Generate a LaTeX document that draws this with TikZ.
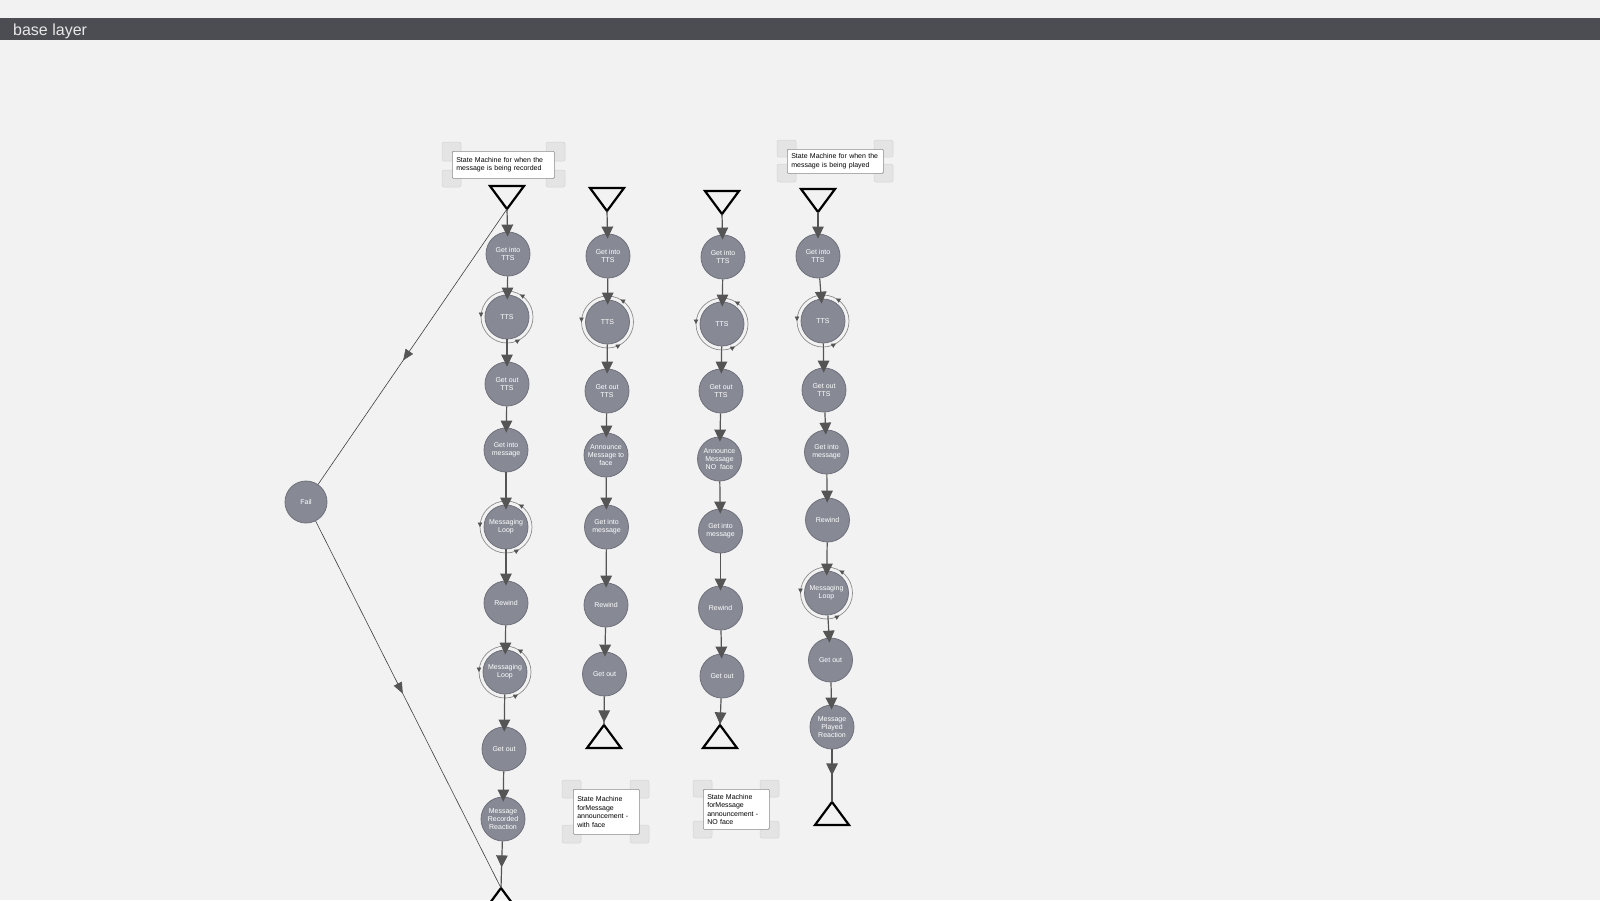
\documentclass[tikz,border=0pt]{standalone}
\usepackage{fontspec}
\setmainfont{Liberation Sans}
\usetikzlibrary{arrows.meta,decorations.markings}
\definecolor{bg}{HTML}{F2F2F2}
\definecolor{bar}{HTML}{4C4C53}
\definecolor{bartext}{HTML}{E8E8E8}
\definecolor{nodefill}{HTML}{878A95}
\definecolor{nodeborder}{HTML}{6E717B}
\definecolor{arrowgray}{HTML}{555555}
\definecolor{ringgray}{HTML}{8C8C8C}
\definecolor{handlefill}{HTML}{E4E4E4}
\definecolor{handledraw}{HTML}{D4D4D4}
\definecolor{lblborder}{HTML}{8A8A8A}
\tikzset{
  st/.style={circle, draw=nodeborder, fill=nodefill, line width=0.8pt, minimum size=44pt,
    inner sep=0pt, text=white, font=\fontsize{7}{8.3}\selectfont, align=center},
  flow/.style={draw=arrowgray, line width=1.2pt, -{Triangle[width=11.5pt,length=12pt]}, shorten >=-5pt},
  flowsrc/.style={draw=arrowgray, line width=1.2pt, postaction={decorate},
    decoration={markings, mark=at position 26pt with {\arrow{Triangle[width=11.5pt,length=12pt]}}}},
  failline/.style={draw=black!75, line width=0.6pt, postaction={decorate},
    decoration={markings, mark=at position #1 with {\arrow[arrowgray]{Triangle[width=9pt,length=11pt]}}}},
  ring/.style={draw=ringgray, line width=0.7pt, postaction={decorate},
    decoration={markings,
      mark=at position 0.167 with {\arrow[arrowgray]{Triangle[width=4.5pt,length=4.5pt]}},
      mark=at position 0.5 with {\arrow[arrowgray]{Triangle[width=4.5pt,length=4.5pt]}},
      mark=at position 0.833 with {\arrow[arrowgray]{Triangle[width=4.5pt,length=4.5pt]}}}},
  term/.style={draw=black, line width=2.2pt, line join=miter},
  handle/.style={fill=handlefill, draw=handledraw, line width=0.5pt, rounded corners=2pt},
  lbl/.style={draw=lblborder, fill=white, line width=0.6pt, rounded corners=1pt, inner sep=4pt,
    anchor=north west, align=left, text=black, font=\fontsize{7}{8.5}\selectfont},
}
\begin{document}
\begin{tikzpicture}[x=1pt,y=-1pt]
\useasboundingbox (0,0) rectangle (1600,900);
\fill[bg] (0,0) rectangle (1600,900);
\fill[bar] (0,18) rectangle (1600,40);
\node[anchor=base west, inner sep=0pt, text=bartext, font=\fontsize{16}{18}\selectfont] (title) at (13,35) {base layer};

% ---------- labels ----------
\draw[handle] (442,142) rectangle ++(19,19);
\draw[handle] (546,142) rectangle ++(19,19);
\draw[handle] (442,170) rectangle ++(19,17);
\draw[handle] (546,170) rectangle ++(19,17);
\node[lbl, minimum width=102pt, minimum height=27pt, text width=94pt] (l1) at (452,151)
  {State Machine for when the\\message is being recorded};

\draw[handle] (777,140) rectangle ++(19,17);
\draw[handle] (874,140) rectangle ++(19,17);
\draw[handle] (777,164) rectangle ++(19,18);
\draw[handle] (874,164) rectangle ++(19,18);
\node[lbl, minimum width=96pt, minimum height=24pt, text width=88pt] (l4) at (787,149)
  {State Machine for when the\\message is being played};

\draw[handle] (562,780) rectangle ++(19,18);
\draw[handle] (630,780) rectangle ++(19,18);
\draw[handle] (562,825) rectangle ++(19,18);
\draw[handle] (630,825) rectangle ++(19,18);
\node[lbl, minimum width=66pt, minimum height=45pt, text width=58pt] (l2) at (573,789)
  {State Machine\\forMessage\\announcement -\\with face};

\draw[handle] (693,780) rectangle ++(19,17);
\draw[handle] (760,780) rectangle ++(19,17);
\draw[handle] (693,821) rectangle ++(19,17);
\draw[handle] (760,821) rectangle ++(19,17);
\node[lbl, minimum width=66pt, minimum height=40pt, text width=58pt] (l3) at (703,789)
  {State Machine\\forMessage\\announcement -\\NO face};

% ---------- column 1 ----------
\coordinate (s1) at (507,209);
\draw[term] (s1) ++(-17,-23) -- ++(34,0) -- (s1) -- cycle;
\node[st] (n1a) at (508,254) {Get into\\TTS};
\node[st] (n1b) at (507,317) {TTS};
\node[st] (n1c) at (507,384) {Get out\\TTS};
\node[st] (n1d) at (506,450) {Get into\\message};
\node[st] (n1e) at (506,527) {Messaging\\Loop};
\node[st] (n1f) at (506,603) {Rewind};
\node[st] (n1g) at (505,672) {Messaging\\Loop};
\node[st] (n1h) at (504,749) {Get out};
\node[st] (n1i) at (503,819) {Message\\Recorded\\Reaction};
\coordinate (e1) at (501,888);
\draw[term] (e1) -- ++(17,23) -- ++(-34,0) -- cycle;
\node[st, minimum size=42pt] (fail) at (306,502) {Fail};
\draw[ring] (n1b.center) circle (26pt);
\draw[ring] (n1e.center) circle (26pt);
\draw[ring] (n1g.center) circle (26pt);
\draw[flow] (s1) -- (n1a);
\draw[flow] (n1a) -- (n1b);
\draw[flow] (n1b) -- (n1c);
\draw[flow] (n1c) -- (n1d);
\draw[flow] (n1d) -- (n1e);
\draw[flow] (n1e) -- (n1f);
\draw[flow] (n1f) -- (n1g);
\draw[flow] (n1g) -- (n1h);
\draw[flow] (n1h) -- (n1i);
\draw[flowsrc] (n1i) -- (e1);
\draw[failline=0.55] (s1) -- (fail);
\draw[failline=0.47] (fail) -- (e1);

% ---------- column 2 ----------
\coordinate (s2) at (607,211);
\draw[term] (s2) ++(-17,-23) -- ++(34,0) -- (s2) -- cycle;
\node[st] (n2a) at (608,256) {Get into\\TTS};
\node[st] (n2b) at (607.5,322) {TTS};
\node[st] (n2c) at (607,391) {Get out\\TTS};
\node[st] (n2d) at (606,455) {Announce\\Message to\\face};
\node[st] (n2e) at (606.5,527) {Get into\\message};
\node[st] (n2f) at (606,605) {Rewind};
\node[st] (n2g) at (604.5,674) {Get out};
\coordinate (e2) at (604,725);
\draw[term] (e2) -- ++(17,23) -- ++(-34,0) -- cycle;
\draw[ring] (n2b.center) circle (26pt);
\draw[flow] (s2) -- (n2a);
\draw[flow] (n2a) -- (n2b);
\draw[flow] (n2b) -- (n2c);
\draw[flow] (n2c) -- (n2d);
\draw[flow] (n2d) -- (n2e);
\draw[flow] (n2e) -- (n2f);
\draw[flow] (n2f) -- (n2g);
\draw[flowsrc] (n2g) -- (e2);

% ---------- column 3 ----------
\coordinate (s3) at (722,214);
\draw[term] (s3) ++(-17,-23) -- ++(34,0) -- (s3) -- cycle;
\node[st] (n3a) at (723,257) {Get into\\TTS};
\node[st] (n3b) at (722,324) {TTS};
\node[st] (n3c) at (721,391) {Get out\\TTS};
\node[st] (n3d) at (719.5,459) {Announce\\Message\\NO\ \ face};
\node[st] (n3e) at (720.5,531) {Get into\\message};
\node[st] (n3f) at (720.5,608) {Rewind};
\node[st] (n3g) at (722,676) {Get out};
\coordinate (e3) at (720,725);
\draw[term] (e3) -- ++(17,23) -- ++(-34,0) -- cycle;
\draw[ring] (n3b.center) circle (26pt);
\draw[flow] (s3) -- (n3a);
\draw[flow] (n3a) -- (n3b);
\draw[flow] (n3b) -- (n3c);
\draw[flow] (n3c) -- (n3d);
\draw[flow] (n3d) -- (n3e);
\draw[flow] (n3e) -- (n3f);
\draw[flow] (n3f) -- (n3g);
\draw[flowsrc] (n3g) -- (e3);

% ---------- column 4 ----------
\coordinate (s4) at (818,212);
\draw[term] (s4) ++(-17,-23) -- ++(34,0) -- (s4) -- cycle;
\node[st] (n4a) at (818,256) {Get into\\TTS};
\node[st] (n4b) at (823,321) {TTS};
\node[st] (n4c) at (824,390) {Get out\\TTS};
\node[st] (n4d) at (826.5,452) {Get into\\message};
\node[st] (n4e) at (827.5,520) {Rewind};
\node[st] (n4f) at (826.5,593) {Messaging\\Loop};
\node[st] (n4g) at (830.5,660) {Get out};
\node[st] (n4h) at (832,727) {Message\\Played\\Reaction};
\coordinate (e4) at (832,802);
\draw[term] (e4) -- ++(17,23) -- ++(-34,0) -- cycle;
\draw[ring] (n4b.center) circle (26pt);
\draw[ring] (n4f.center) circle (26pt);
\draw[flow] (s4) -- (n4a);
\draw[flow] (n4a) -- (n4b);
\draw[flow] (n4b) -- (n4c);
\draw[flow] (n4c) -- (n4d);
\draw[flow] (n4d) -- (n4e);
\draw[flow] (n4e) -- (n4f);
\draw[flow] (n4f) -- (n4g);
\draw[flow] (n4g) -- (n4h);
\draw[flowsrc] (n4h) -- (e4);
\end{tikzpicture}
\end{document}
